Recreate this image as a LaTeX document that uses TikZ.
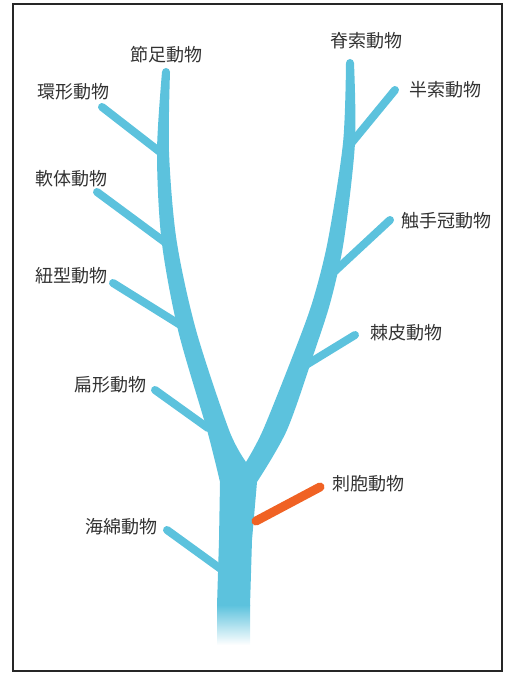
\documentclass[tikz,border=0pt]{standalone}
\usepackage{fontspec}
\newfontfamily\jpfont{Noto Sans CJK JP}
\usetikzlibrary{positioning}

\definecolor{stem}{RGB}{92,194,221}
\definecolor{cnida}{RGB}{240,98,36}
\definecolor{ink}{RGB}{50,50,50}

\begin{document}
\begin{tikzpicture}[
    x=1pt, y=-1pt,
    taxon/.style={text=ink, inner sep=1pt, font=\jpfont\fontsize{18}{20}\selectfont},
    limb/.style={draw=stem, line width=8pt, line cap=round},
    sting/.style={draw=cnida, line width=9pt, line cap=round}
]
\useasboundingbox (0,0) rectangle (509,676);

% Define labels
\node[taxon] (arth)  at (166,55)  {節足動物};
\node[taxon] (anne)  at (73,92)   {環形動物};
\node[taxon] (moll)  at (71,179)  {軟体動物};
\node[taxon] (nemer) at (71,276)  {紐型動物};
\node[taxon] (platy) at (110,385) {扁形動物};
\node[taxon] (spong) at (121,527) {海綿動物};
\node[taxon] (chord) at (366,41)  {脊索動物};
\node[taxon] (hemi)  at (445,90)  {半索動物};
\node[taxon] (lopho) at (446,221) {触手冠動物};
\node[taxon] (echin) at (406,333) {棘皮動物};
\node[taxon] (cnid)  at (368,484) {刺胞動物};

% Branch tips and where they join
\coordinate (anneTip)  at (102,107); \coordinate (anneJoin)  at (160,152);
\coordinate (mollTip)  at (97,192);  \coordinate (mollJoin)  at (166,243);
\coordinate (nemerTip) at (113,283); \coordinate (nemerJoin) at (182,326);
\coordinate (platyTip) at (155,390); \coordinate (platyJoin) at (208,428);
\coordinate (spongTip) at (167,530); \coordinate (spongJoin) at (225,572);
\coordinate (hemiTip)  at (395,90);  \coordinate (hemiJoin)  at (349,146);
\coordinate (lophoTip) at (390,220); \coordinate (lophoJoin) at (334,272);
\coordinate (echinTip) at (355,335); \coordinate (echinJoin) at (306,365);
\coordinate (cnidTip)  at (320,487); \coordinate (cnidJoin)  at (256,521);

% Side branches
\foreach \t/\j in {anneTip/anneJoin, mollTip/mollJoin, nemerTip/nemerJoin,
    platyTip/platyJoin, spongTip/spongJoin, hemiTip/hemiJoin,
    lophoTip/lophoJoin, echinTip/echinJoin} {
    \draw[limb] (\t) -- (\j);
}

% Trunk and the two main branches
\fill[stem] (217,606) -- (219,540)
    -- plot[smooth] coordinates {(220,482) (207,430) (178,330) (161.5,240) (157,152) (162,72)}
    arc[start angle=180, end angle=360, radius=4]
    -- plot[smooth] coordinates {(170,72) (169,152) (176.5,240) (196,330) (229,430) (246,462)}
    -- plot[smooth] coordinates {(246,462) (263,430) (295,350) (313,300) (328,240) (343,143) (346,63)}
    arc[start angle=180, end angle=360, radius=4]
    -- plot[smooth] coordinates {(354,63) (355,143) (344,240) (331,300) (315,350) (287,430) (257,482)}
    -- (252,540) -- (250,606) -- cycle;
\shade[top color=stem, bottom color=white] (217,605) rectangle (250,645);

% Cnidaria
\draw[sting] (cnidJoin) -- (cnidTip);

% Frame
\draw[line width=2.5pt, black!85] (13,4) rectangle (502,671);

\end{tikzpicture}
\end{document}
